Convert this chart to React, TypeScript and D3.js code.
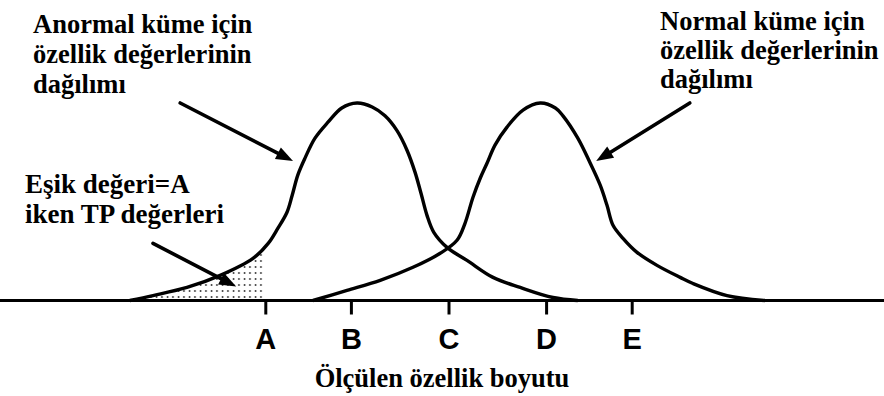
import React from "react";
import * as d3 from "d3";

// Feature axis positions of the labelled thresholds
const tickLabels = ["A", "B", "C", "D", "E"];
const tickValues = [27.1, 37.8, 50, 62.2, 72.9];

// Abnormal cluster: feature value vs relative density
const abnormalX = [10.1, 13.0, 17.25, 21.4, 25.5, 27.4, 28.6, 29.75, 30.4, 31.1, 32.0, 33.25, 34.9, 36.6, 38.5, 40.4, 42.0, 43.5, 44.75, 45.75, 46.5, 47.25, 48.1, 49.75, 52.25, 55.5, 58.9, 63.0, 66.1];
const abnormalY = [0, 0.025, 0.066, 0.127, 0.213, 0.289, 0.365, 0.447, 0.533, 0.635, 0.721, 0.822, 0.904, 0.975, 1.0, 0.98, 0.935, 0.86, 0.761, 0.65, 0.543, 0.431, 0.345, 0.269, 0.203, 0.117, 0.066, 0.015, 0];

// Normal cluster: feature value vs relative density
const normalX = [33.0, 37.25, 41.4, 45.5, 48.9, 51.0, 52.0, 53.0, 53.9, 54.75, 55.75, 57.25, 59.25, 61.4, 63.3, 64.25, 66.1, 67.6, 68.9, 69.75, 70.5, 71.75, 73.5, 76.0, 78.9, 80.5, 84.75, 89.5];
const normalY = [0, 0.051, 0.102, 0.168, 0.239, 0.305, 0.391, 0.523, 0.619, 0.695, 0.787, 0.878, 0.964, 1.0, 0.975, 0.935, 0.822, 0.70, 0.584, 0.482, 0.381, 0.315, 0.244, 0.178, 0.117, 0.086, 0.025, 0];

// Threshold whose left-side area is shaded as true positives
const threshold = 27.1;

// Annotation arrows in data units: [fromX, fromY, toX, toY]
const arrows = [
  [16.4, 1.0, 30.5, 0.706],
  [80.1, 1.0, 68.4, 0.706],
  [13.0, 0.289, 23.4, 0.071],
];

const W = 884;
const H = 396;

export default function App() {
  const x = d3.scaleLinear().domain([0, 100]).range([49, 849]);
  const y = d3.scaleLinear().domain([0, 1]).range([300.5, 103]);

  const abnormal = abnormalX.map((v, i) => [v, abnormalY[i]] as [number, number]);
  const normal = normalX.map((v, i) => [v, normalY[i]] as [number, number]);

  const curve = d3.curveCatmullRom.alpha(0.5);

  const line = d3
    .line<[number, number]>()
    .x((d) => x(d[0]))
    .y((d) => Math.min(y(d[1]), y(0)))
    .curve(curve);

  const area = d3
    .area<[number, number]>()
    .x((d) => x(d[0]))
    .y0(y(0))
    .y1((d) => y(d[1]))
    .curve(curve);

  const arrowHead = (a: number[]) => {
    const x1 = x(a[0]), y1 = y(a[1]), x2 = x(a[2]), y2 = y(a[3]);
    const ang = Math.atan2(y2 - y1, x2 - x1);
    const len = 17, hw = 6.5;
    const bx = x2 - len * Math.cos(ang);
    const by = y2 - len * Math.sin(ang);
    const px = -Math.sin(ang) * hw;
    const py = Math.cos(ang) * hw;
    return {
      line: { x1, y1, x2: bx + 3 * Math.cos(ang), y2: by + 3 * Math.sin(ang) },
      head: `${x2},${y2} ${bx + px},${by + py} ${bx - px},${by - py}`,
    };
  };

  const serif = "'Liberation Serif', 'Times New Roman', serif";
  const sans = "'Liberation Sans', Arial, sans-serif";

  return (
    <svg
      width={W}
      height={H}
      viewBox={`0 0 ${W} ${H}`}
      style={{ position: "absolute", left: 0, top: 0, background: "#fff" }}
    >
      <defs>
        <pattern id="tpDots" width={5.5} height={6} patternUnits="userSpaceOnUse">
          <circle cx={2.5} cy={3} r={0.9} fill="#222" />
        </pattern>
        <clipPath id="tpClip">
          <rect x={0} y={0} width={x(threshold) - 3} height={y(0) - 2} />
        </clipPath>
      </defs>

      {/* true-positive region under the abnormal curve */}
      <path d={area(abnormal) ?? ""} fill="url(#tpDots)" clipPath="url(#tpClip)" />

      {/* density curves */}
      <path d={line(abnormal) ?? ""} fill="none" stroke="#000" strokeWidth={3.4} strokeLinejoin="round" />
      <path d={line(normal) ?? ""} fill="none" stroke="#000" strokeWidth={3.4} strokeLinejoin="round" />

      {/* baseline axis */}
      <line x1={0} x2={W} y1={y(0)} y2={y(0)} stroke="#000" strokeWidth={3} />
      {tickValues.map((v, i) => (
        <g key={tickLabels[i]}>
          <line x1={x(v)} x2={x(v)} y1={y(0)} y2={y(0) + 14} stroke="#000" strokeWidth={3} />
          <text
            x={x(v)}
            y={349}
            textAnchor="middle"
            fontFamily={sans}
            fontWeight="bold"
            fontSize={29}
            fill="#000"
          >
            {tickLabels[i]}
          </text>
        </g>
      ))}

      <text x={442} y={387} textAnchor="middle" fontFamily={serif} fontWeight="bold" fontSize={26.5} fill="#000">
        Ölçülen özellik boyutu
      </text>

      {/* annotations */}
      {arrows.map((a, i) => {
        const h = arrowHead(a);
        return (
          <g key={i}>
            <line {...h.line} stroke="#000" strokeWidth={3.6} strokeLinecap="round" />
            <polygon points={h.head} fill="#000" />
          </g>
        );
      })}

      <g fontFamily={serif} fontWeight="bold" fill="#000">
        <g fontSize={26.5}>
          <text x={33} y={33}>Anormal küme için</text>
          <text x={33} y={63}>özellik değerlerinin</text>
          <text x={33} y={93}>dağılımı</text>

          <text x={660} y={30}>Normal küme için</text>
          <text x={660} y={59}>özellik değerlerinin</text>
          <text x={660} y={88}>dağılımı</text>
        </g>
        <g fontSize={27}>
          <text x={25} y={193}>Eşik değeri=A</text>
          <text x={25} y={223}>iken TP değerleri</text>
        </g>
      </g>
    </svg>
  );
}
